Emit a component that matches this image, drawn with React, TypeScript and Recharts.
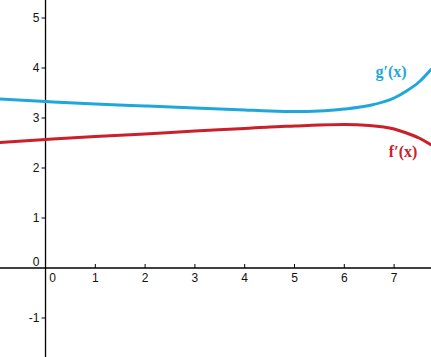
import React from 'react';
import {
    LineChart,
    Line,
    XAxis,
    YAxis,
    ReferenceLine,
    ReferenceDot,
} from 'recharts';

// sample points
const xValues = [-0.92, 0, 1, 2, 3, 4, 4.5, 5, 5.5, 6, 6.5, 7, 7.25, 7.5, 7.75];
const gPrime = [3.38, 3.33, 3.28, 3.24, 3.2, 3.16, 3.14, 3.13, 3.14, 3.18, 3.25, 3.4, 3.54, 3.72, 3.98];
const fPrime = [2.51, 2.57, 2.63, 2.68, 2.74, 2.79, 2.82, 2.84, 2.86, 2.87, 2.85, 2.78, 2.7, 2.6, 2.46];

const xTicks = [1, 2, 3, 4, 5, 6, 7];
const yTicks = [-1, 1, 2, 3, 4, 5];

const X_DOMAIN: [number, number] = [-0.914, 7.741];
const Y_DOMAIN: [number, number] = [-1.78, 5.36];

const G_COLOR = '#1fa6db';
const F_COLOR = '#c9202b';
const TICK_FONT = { fontFamily: '"Liberation Sans", Arial, sans-serif', fontSize: 12, fill: '#111' };
const CURVE_FONT = { fontFamily: '"Liberation Serif", "Times New Roman", serif', fontSize: 16, fontWeight: 700 };

const data = xValues.map((x, i) => ({ x, g: gPrime[i], f: fPrime[i] }));

const textLabel = (text: string, style: any, dx = 0, dy = 0, anchor = 'middle') => (props: any) => {
    const { viewBox } = props;
    const cx = viewBox.x + viewBox.width / 2;
    const cy = viewBox.y + viewBox.height / 2;
    return (
        <text x={cx + dx} y={cy + dy} textAnchor={anchor} dominantBaseline="central" {...style}>
            {text}
        </text>
    );
};

export default function App() {
    return (
        <div style={{ position: 'absolute', left: 0, top: 0, width: 431, height: 357, background: '#fff' }}>
            <LineChart width={431} height={357} data={data} margin={{ top: 0, right: 0, bottom: 0, left: 0 }}>
                <XAxis type="number" dataKey="x" domain={X_DOMAIN} allowDataOverflow hide />
                <YAxis type="number" domain={Y_DOMAIN} allowDataOverflow hide />

                <ReferenceLine y={0} stroke="#000" strokeWidth={1.3} />
                <ReferenceLine x={0} stroke="#000" strokeWidth={1.3} />

                {xTicks.map((t) => (
                    <ReferenceLine key={`xt${t}`} segment={[{ x: t, y: 0 }, { x: t, y: 0.08 }]} stroke="#000" />
                ))}
                {yTicks.map((t) => (
                    <ReferenceLine key={`yt${t}`} segment={[{ x: -0.08, y: t }, { x: 0, y: t }]} stroke="#000" />
                ))}

                {xTicks.map((t) => (
                    <ReferenceDot key={`xl${t}`} x={t} y={0} r={0} stroke="none" fill="none"
                        label={textLabel(String(t), TICK_FONT, 0, 10)} />
                ))}
                {yTicks.map((t) => (
                    <ReferenceDot key={`yl${t}`} x={0} y={t} r={0} stroke="none" fill="none"
                        label={textLabel(String(t), TICK_FONT, -6, 0, 'end')} />
                ))}
                <ReferenceDot x={0} y={0} r={0} stroke="none" fill="none"
                    label={textLabel('0', TICK_FONT, 7, 10)} />
                <ReferenceDot x={0} y={0} r={0} stroke="none" fill="none"
                    label={textLabel('0', TICK_FONT, -6, -6, 'end')} />

                <Line type="monotone" dataKey="g" stroke={G_COLOR} strokeWidth={3} dot={false} isAnimationActive={false} />
                <Line type="monotone" dataKey="f" stroke={F_COLOR} strokeWidth={3} dot={false} isAnimationActive={false} />

                <ReferenceDot x={6.94} y={3.94} r={0} stroke="none" fill="none"
                    label={textLabel('g′(x)', { ...CURVE_FONT, fill: G_COLOR })} />
                <ReferenceDot x={7.18} y={2.34} r={0} stroke="none" fill="none"
                    label={textLabel('f′(x)', { ...CURVE_FONT, fill: F_COLOR })} />
            </LineChart>
        </div>
    );
}
